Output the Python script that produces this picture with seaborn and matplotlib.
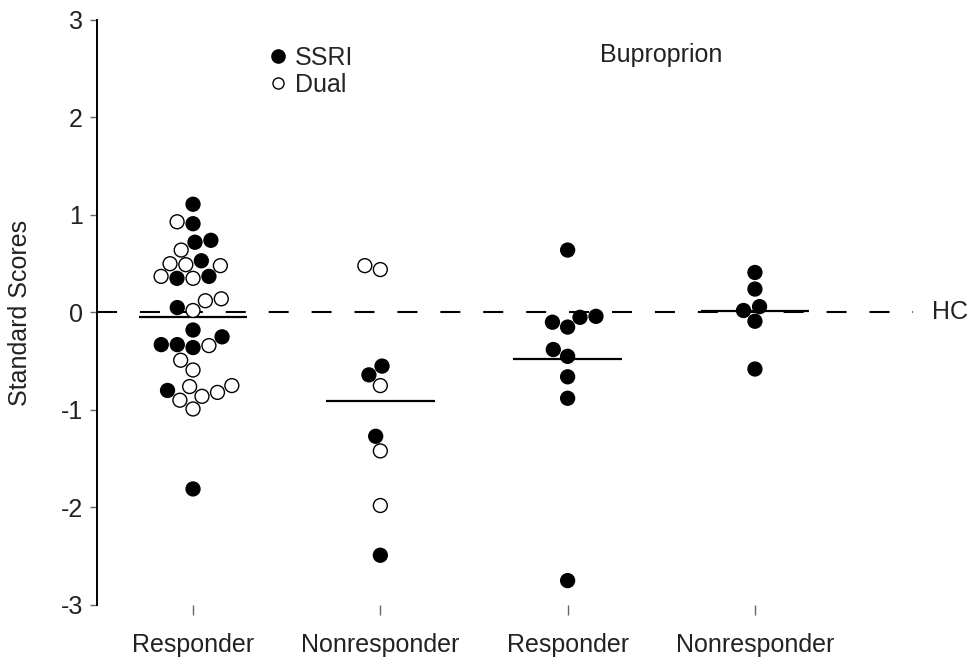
import pandas as pd
import matplotlib
matplotlib.use("Agg")
import matplotlib.pyplot as plt
from matplotlib.lines import Line2D
import seaborn as sns

sns.set_style("white")
plt.rcParams["font.family"] = ["Liberation Sans", "DejaVu Sans"]
plt.rcParams["axes.unicode_minus"] = False

# --- Data (standard scores) ---
groups = ["SSRI/Dual Responder", "SSRI/Dual Nonresponder",
          "Bupropion Responder", "Bupropion Nonresponder"]
tick_labels = ["Responder", "Nonresponder", "Responder", "Nonresponder"]

ssri_resp = [1.11, 0.91, 0.72, 0.74, 0.53, 0.35, 0.37, 0.05, -0.18, -0.25,
             -0.36, -0.33, -0.33, -0.80, -1.81]
dual_resp = [0.93, 0.64, 0.49, 0.48, 0.50, 0.37, 0.35, 0.12, 0.14, 0.02,
             -0.34, -0.49, -0.59, -0.76, -0.75, -0.82, -0.90, -0.86, -0.99]
ssri_nonresp = [-0.55, -0.64, -1.27, -2.49]
dual_nonresp = [0.48, 0.44, -0.75, -1.42, -1.98]
bup_resp = [0.64, -0.05, -0.10, -0.15, -0.04, -0.38, -0.45, -0.66, -0.88, -2.75]
bup_nonresp = [0.41, 0.24, 0.06, 0.02, -0.09, -0.58]

rows = []
for grp, drug, vals in [
    (groups[0], "SSRI", ssri_resp),
    (groups[0], "Dual", dual_resp),
    (groups[1], "SSRI", ssri_nonresp),
    (groups[1], "Dual", dual_nonresp),
    (groups[2], "Bupropion", bup_resp),
    (groups[3], "Bupropion", bup_nonresp),
]:
    for v in vals:
        rows.append((grp, drug, v))
df = pd.DataFrame(rows, columns=["group", "drug", "score"])

palette = {"SSRI": "black", "Dual": "white", "Bupropion": "black"}

# --- Figure ---
fig = plt.figure(figsize=(9.74, 6.67), dpi=100)
ax = fig.add_axes([0.0996, 0.093, 0.8378, 0.8771])

sns.swarmplot(data=df, x="group", y="score", hue="drug", order=groups,
              palette=palette, size=10, edgecolor="black", linewidth=1,
              legend=False, ax=ax, zorder=3)

# group means
means = df.groupby("group")["score"].mean().reindex(groups)
for i, m in enumerate(means):
    ax.hlines(m, i - 0.29, i + 0.29, color="black", lw=1.6, zorder=2)

# healthy control reference
ax.axhline(0, color="black", lw=1.5, dashes=(9.6, 11), zorder=1)
ax.text(4.04, 0, "HC", fontsize=18, color="#222222", ha="center",
        va="center", clip_on=False)

ax.set_xlim(-0.5126, 3.844)
ax.set_ylim(-3, 3)
ax.set_yticks([-3, -2, -1, 0, 1, 2, 3])
ax.set_xticks(range(4))
ax.set_xticklabels(tick_labels)
ax.set_xlabel("")
ax.set_ylabel("Standard Scores", fontsize=18, color="#222222")
ax.yaxis.set_label_coords(-0.08, 0.5)

for side in ["top", "right", "bottom"]:
    ax.spines[side].set_visible(False)
ax.spines["left"].set_linewidth(1.4)
ax.spines["left"].set_color("black")

ax.tick_params(axis="y", direction="out", length=5, width=1, color="#666666",
               labelsize=18, labelcolor="#222222", pad=5, left=True)
ax.tick_params(axis="x", direction="out", length=7, width=1, color="#666666",
               labelsize=18, labelcolor="#222222", pad=13, bottom=True)

# legend
handles = [
    Line2D([], [], marker="o", ls="", markersize=9.5, markerfacecolor="black",
           markeredgecolor="black", label="SSRI"),
    Line2D([], [], marker="o", ls="", markersize=8, markerfacecolor="white",
           markeredgecolor="black", markeredgewidth=1, label="Dual"),
]
fig.legend(handles=handles, loc="upper left", bbox_to_anchor=(0.262, 0.95),
           frameon=False, fontsize=18, handlelength=0.8, handletextpad=0.3,
           labelspacing=0.12, borderpad=0)

fig.text(661 / 974, 1 - 55 / 667, "Buproprion", fontsize=18,
         color="#222222", ha="center", va="center")

plt.savefig("out.png", dpi=100)
plt.close()
